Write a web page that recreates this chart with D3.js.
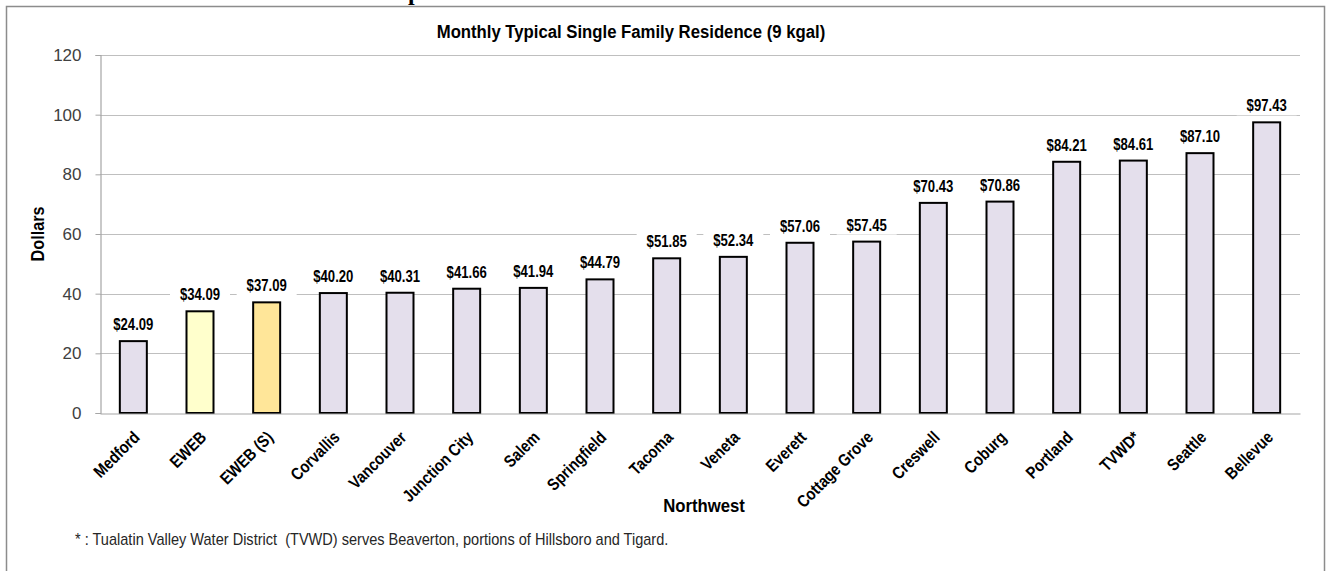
<!DOCTYPE html>
<html>
<head>
<meta charset="utf-8">
<script src="https://cdn.jsdelivr.net/npm/d3@7"></script>
<style>
  html, body { margin: 0; padding: 0; background: #ffffff; }
  svg { display: block; }
</style>
</head>
<body>
<script>
const categories = ["Medford","EWEB","EWEB (S)","Corvallis","Vancouver","Junction City","Salem","Springfield","Tacoma","Veneta","Everett","Cottage Grove","Creswell","Coburg","Portland","TVWD*","Seattle","Bellevue"];
const values = [24.09,34.09,37.09,40.20,40.31,41.66,41.94,44.79,51.85,52.34,57.06,57.45,70.43,70.86,84.21,84.61,87.10,97.43];
const barGroups = ["other","eweb","ewebS","other","other","other","other","other","other","other","other","other","other","other","other","other","other","other"];
const yTicks = [0,20,40,60,80,100,120];
const titleText = "Monthly Typical Single Family Residence (9 kgal)";
const yTitle = "Dollars";
const xTitle = "Northwest";
const footnote = "* : Tualatin Valley Water District  (TVWD) serves Beaverton, portions of Hillsboro and Tigard.";

const W = 1330, H = 571;
const font = "'Liberation Sans', Arial, sans-serif";
const colorMap = d3.scaleOrdinal().domain(["other","eweb","ewebS"]).range(["#e4dfec","#ffffcc","#ffe699"]);

const svg = d3.select("body").append("svg").attr("width", W).attr("height", H);

// cut-off heading remnant above the chart frame
svg.append("text").attr("x", 408).attr("y", 0)
  .attr("font-family", "'Liberation Serif', 'Times New Roman', serif")
  .attr("font-weight", "bold").attr("font-size", 24).attr("fill", "#000").text("p");

// chart frame
svg.append("rect").attr("x", 6.5).attr("y", 6.5).attr("width", 1318).attr("height", 600)
  .attr("fill", "none").attr("stroke", "#8c8c8c").attr("stroke-width", 1.5);

const x = d3.scaleBand().domain(categories).range([100, 1300]).paddingInner(0.595).paddingOuter(0.2975);
const y = d3.scaleLinear().domain([0, 120]).range([413, 55]);

// gridlines
svg.append("g").selectAll("line").data(yTicks.filter(t => t > 0)).join("line")
  .attr("x1", 100).attr("x2", 1300)
  .attr("y1", d => Math.round(y(d)) + 0.5).attr("y2", d => Math.round(y(d)) + 0.5)
  .attr("stroke", "#bfbfbf").attr("stroke-width", 1.2);

// y axis
const yAxis = svg.append("g").attr("transform", "translate(100.5,0)")
  .call(d3.axisLeft(y).tickValues(yTicks).tickSize(5).tickPadding(14).tickFormat(d3.format("d")));
yAxis.select(".domain").attr("stroke", "#a6a6a6").attr("stroke-width", 1.2);
yAxis.selectAll(".tick line").attr("stroke", "#a6a6a6");
yAxis.selectAll(".tick text").attr("font-family", font).attr("font-size", 17).attr("fill", "#404040");

// bars
svg.append("g").selectAll("rect").data(categories).join("rect")
  .attr("x", d => x(d)).attr("width", x.bandwidth())
  .attr("y", (d, i) => y(values[i])).attr("height", (d, i) => y(0) - y(values[i]))
  .attr("fill", (d, i) => colorMap(barGroups[i]))
  .attr("stroke", "#000").attr("stroke-width", 2);

// x axis
const xAxis = svg.append("g").attr("transform", "translate(0,413.5)")
  .call(d3.axisBottom(x).tickSize(0).tickFormat(""));
xAxis.select(".domain").attr("stroke", "#a6a6a6").attr("stroke-width", 1.2);

// x tick labels rotated (narrowed horizontally)
svg.append("g").selectAll("text").data(categories).join("text")
  .attr("transform", d => `translate(${x(d) + x.bandwidth() / 2 - 1},${430}) rotate(-45) scale(0.85,1)`)
  .attr("text-anchor", "end").attr("dy", "0.7em")
  .attr("font-family", font).attr("font-weight", "bold").attr("font-size", 17).attr("fill", "#000")
  .text(d => d);

// value labels with white background
const lab = svg.append("g").selectAll("g").data(categories).join("g")
  .attr("transform", (d, i) => `translate(${x(d) + x.bandwidth() / 2},${y(values[i]) - 11})`);
lab.append("rect").attr("x", -30).attr("y", -15).attr("width", 60).attr("height", 19).attr("fill", "#fff");
lab.append("text").attr("text-anchor", "middle").attr("transform", "scale(0.82,1)")
  .attr("font-family", font).attr("font-weight", "bold").attr("font-size", 16).attr("fill", "#000")
  .text((d, i) => "$" + values[i].toFixed(2));

// title
svg.append("text").attr("transform", "translate(631,38) scale(0.88,1)").attr("text-anchor", "middle")
  .attr("font-family", font).attr("font-weight", "bold").attr("font-size", 19).attr("fill", "#000")
  .text(titleText);

// y title
svg.append("text").attr("transform", "translate(44,234) rotate(-90) scale(0.9,1)").attr("text-anchor", "middle")
  .attr("font-family", font).attr("font-weight", "bold").attr("font-size", 18).attr("fill", "#000")
  .text(yTitle);

// x title
svg.append("text").attr("transform", "translate(704,512) scale(0.88,1)").attr("text-anchor", "middle")
  .attr("font-family", font).attr("font-weight", "bold").attr("font-size", 19).attr("fill", "#000")
  .text(xTitle);

// footnote
svg.append("text").attr("transform", "translate(75,545) scale(0.91,1)")
  .attr("font-family", font).attr("font-size", 16).attr("fill", "#262626")
  .attr("xml:space", "preserve").style("white-space", "pre")
  .text(footnote);
</script>
</body>
</html>
